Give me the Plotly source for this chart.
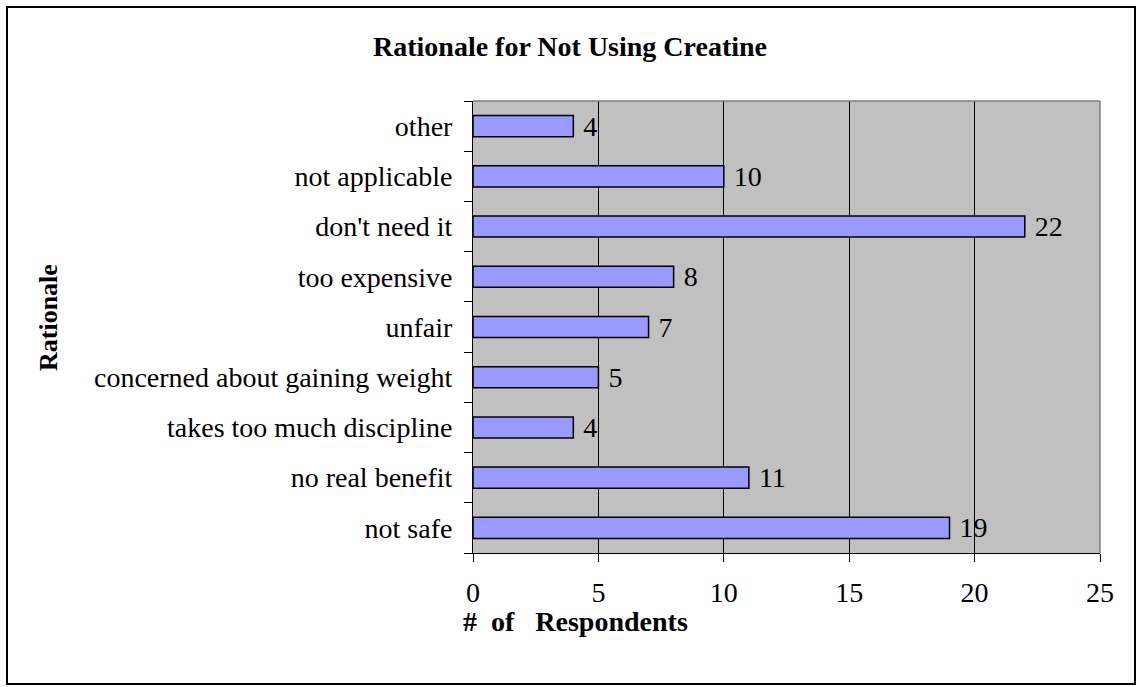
import plotly.graph_objects as go

categories = ["not safe", "no real benefit", "takes too much discipline",
              "concerned about gaining weight", "unfair", "too expensive",
              "don't need it", "not applicable", "other"]
values = [19, 11, 4, 5, 7, 8, 22, 10, 4]
x_ticks = [0, 5, 10, 15, 20, 25]

W, H = 1138, 687
L, R, T, B = 473, 38, 101, 134
pw, ph = W - L - R, H - T - B

def px(x):
    return (x - L) / pw

def py(y):
    return (H - B - y) / ph

font = "Liberation Serif, Times New Roman, serif"

fig = go.Figure(go.Bar(
    y=categories, x=values, orientation="h",
    marker=dict(color="#9999FF", line=dict(color="black", width=1.5)),
    text=["\u00a0" + str(v) for v in values], textposition="outside",
    constraintext="none",
    textfont=dict(family=font, size=28, color="black"),
    cliponaxis=False,
))

fig.update_layout(
    width=W, height=H,
    margin=dict(l=L, r=R, t=T, b=B),
    paper_bgcolor="white", plot_bgcolor="#C0C0C0",
    bargap=0.58, showlegend=False,
    font=dict(family=font, size=28, color="black"),
    xaxis=dict(range=[0, 25], tickvals=x_ticks, showgrid=True, gridcolor="black",
               gridwidth=1, showline=True, linecolor="black", linewidth=1,
               ticks="outside", ticklen=8, tickcolor="black",
               ticklabelstandoff=6, zeroline=False,
               tickfont=dict(family=font, size=28)),
    yaxis=dict(type="category", categoryorder="array", categoryarray=categories,
               showgrid=False, showline=True, linecolor="black", linewidth=1,
               ticks="outside", ticklen=8, tickcolor="black", tickson="boundaries",
               ticklabelstandoff=14, tickfont=dict(family=font, size=28)),
    shapes=[
        dict(type="line", xref="paper", yref="paper", x0=0, x1=1, y0=1, y1=1,
             line=dict(color="#808080", width=1.5)),
        dict(type="line", xref="paper", yref="paper", x0=1, x1=1, y0=0, y1=1,
             line=dict(color="#808080", width=1.5)),
        dict(type="rect", xref="paper", yref="paper",
             x0=px(7), x1=px(1135), y0=py(7), y1=py(684),
             line=dict(color="black", width=2)),
    ],
    annotations=[
        dict(text="<b>Rationale for Not Using Creatine</b>", xref="paper", yref="paper",
             x=px(570), y=py(47), xanchor="center", yanchor="middle",
             showarrow=False, font=dict(family=font, size=28)),
        dict(text="<b>#  of   Respondents</b>", xref="paper", yref="paper",
             x=px(575), y=py(621), xanchor="center", yanchor="middle",
             showarrow=False, font=dict(family=font, size=28)),
        dict(text="<b>Rationale</b>", xref="paper", yref="paper", textangle=-90,
             x=px(48), y=py(318), xanchor="center", yanchor="middle",
             showarrow=False, font=dict(family=font, size=26)),
    ],
)

fig.write_html("out.html")
